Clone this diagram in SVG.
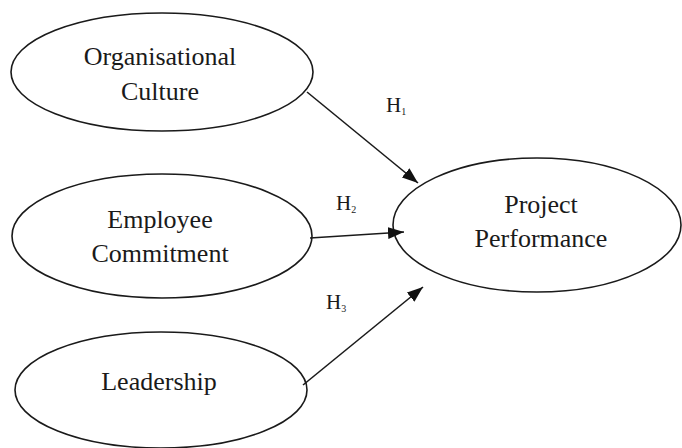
<svg xmlns="http://www.w3.org/2000/svg" width="682" height="448" viewBox="0 0 682 448">
<defs>
<style>
.node ellipse{fill:#fff;stroke:#1a1a1a;stroke-width:1.6}
text{font-family:"Liberation Serif",serif;fill:#1a1a1a}
.lbl{font-size:26px;text-anchor:middle}
.h{font-size:21px}
.sub{font-size:10px}
.edge{stroke:#1a1a1a;stroke-width:1.6;fill:none;marker-end:url(#ah)}
</style>
<marker id="ah" viewBox="0 0 16 12" markerWidth="16" markerHeight="12" refX="16" refY="6" orient="auto" markerUnits="userSpaceOnUse">
<path d="M0,0 L16,6 L0,12 Z" fill="#111"/>
</marker>
</defs>
<rect width="682" height="448" fill="#fff"/>
<g id="oc" class="node">
<ellipse cx="162" cy="72" rx="151" ry="59"/>
<text class="lbl" x="160" y="65" font-family="Liberation Serif, serif">Organisational</text>
<text class="lbl" x="160" y="100" font-family="Liberation Serif, serif">Culture</text>
</g>
<g id="ec" class="node">
<ellipse cx="162" cy="236" rx="150" ry="62"/>
<text class="lbl" x="160" y="228" font-family="Liberation Serif, serif">Employee</text>
<text class="lbl" x="160" y="262" font-family="Liberation Serif, serif">Commitment</text>
</g>
<g id="ld" class="node">
<ellipse cx="161" cy="390" rx="146" ry="58"/>
<text class="lbl" x="159" y="390" font-family="Liberation Serif, serif">Leadership</text>
</g>
<g id="pp" class="node">
<ellipse cx="537" cy="225" rx="144" ry="67"/>
<text class="lbl" x="541" y="213" font-family="Liberation Serif, serif">Project</text>
<text class="lbl" x="541" y="247" font-family="Liberation Serif, serif">Performance</text>
</g>
<g id="connectors">
<line class="edge" x1="307" y1="92" x2="418" y2="183"/>
<line class="edge" x1="310" y1="238" x2="404" y2="232"/>
<line class="edge" x1="303" y1="385" x2="423" y2="287"/>
<text class="h" x="386" y="112" font-family="Liberation Serif, serif">H<tspan class="sub" dy="3">1</tspan></text>
<text class="h" x="336" y="210" font-family="Liberation Serif, serif">H<tspan class="sub" dy="3">2</tspan></text>
<text class="h" x="326" y="309" font-family="Liberation Serif, serif">H<tspan class="sub" dy="3">3</tspan></text>
</g>
</svg>
